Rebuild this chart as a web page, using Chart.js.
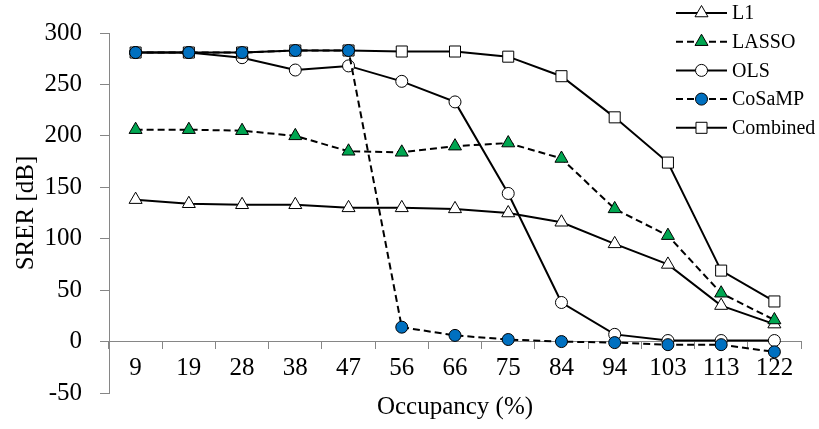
<!DOCTYPE html>
<html>
<head>
<meta charset="utf-8">
<title>SRER vs Occupancy</title>
<script src="https://cdn.jsdelivr.net/npm/chart.js@4.4.0/dist/chart.umd.min.js"></script>
<style>
  html, body { margin: 0; padding: 0; background: #fff; }
  #wrap { width: 819px; height: 429px; position: relative; }
</style>
</head>
<body>
<div id="wrap"><canvas id="chart"></canvas></div>
<script>
// Data
const occupancy = ['9', '19', '28', '38', '47', '56', '66', '75', '84', '94', '103', '113', '122'];
const l1Values       = [138, 134, 133, 133, 130, 130, 129, 125, 116, 95, 75, 35, 17];
const lassoValues    = [206, 206, 205, 200, 185, 184, 190, 193, 178, 129, 103, 47, 21];
const olsValues      = [281, 281, 276, 264, 268, 253, 233, 144, 38, 7, 1, 1, 1];
const cosampValues   = [281, 281, 281, 283, 283, 14, 6, 2, 0, -1, -3, -3, -10];
const combinedValues = [281, 281, 281, 283, 283, 282, 282, 277, 258, 218, 174, 69, 39];
const yTicks = [-50, 0, 50, 100, 150, 200, 250, 300];

const serif = "'Liberation Serif', 'Times New Roman', serif";
const axisGray = '#868686';
const dash = [7, 4];

function series(label, data, opts) {
  return Object.assign({
    label: label,
    data: data,
    borderColor: '#000',
    borderWidth: 2,
    pointBorderColor: '#000',
    pointBorderWidth: 1,
    pointBackgroundColor: '#fff',
    tension: 0,
    fill: false
  }, opts);
}

// Legend drawn on the canvas: line sample with marker, then text
const lineLegend = {
  id: 'lineLegend',
  afterDraw(chart) {
    const ctx = chart.ctx;
    const x0 = 676, x1 = 727, top = 13, step = 28.7;
    ctx.save();
    chart.data.datasets.forEach((ds, i) => {
      const y = top + i * step;
      ctx.strokeStyle = ds.borderColor;
      ctx.lineWidth = ds.borderWidth;
      ctx.setLineDash(ds.borderDash || []);
      ctx.beginPath();
      ctx.moveTo(x0, y);
      ctx.lineTo(x1, y);
      ctx.stroke();
      ctx.setLineDash([]);
      ctx.fillStyle = ds.pointBackgroundColor;
      ctx.strokeStyle = ds.pointBorderColor;
      ctx.lineWidth = ds.pointBorderWidth;
      Chart.helpers.drawPoint(ctx, {
        pointStyle: ds.pointStyle,
        radius: ds.pointRadius,
        rotation: 0,
        borderWidth: ds.pointBorderWidth
      }, (x0 + x1) / 2, y);
      ctx.fillStyle = '#000';
      ctx.font = '20px ' + serif;
      ctx.textBaseline = 'middle';
      ctx.textAlign = 'left';
      ctx.fillText(ds.label, x1 + 5, y + 1);
    });
    ctx.restore();
  }
};

const ctx = document.getElementById('chart').getContext('2d');
new Chart(ctx, {
  type: 'line',
  data: {
    labels: occupancy,
    datasets: [
      series('L1', l1Values, { pointStyle: 'triangle', pointRadius: 7.5, order: 5 }),
      series('LASSO', lassoValues, { pointStyle: 'triangle', pointRadius: 7.5, pointBackgroundColor: '#00a651', borderDash: dash, order: 4 }),
      series('OLS', olsValues, { pointStyle: 'circle', pointRadius: 6, order: 3 }),
      series('CoSaMP', cosampValues, { pointStyle: 'circle', pointRadius: 6, pointBackgroundColor: '#0070c0', borderDash: dash, order: 1 }),
      series('Combined', combinedValues, { pointStyle: 'rect', pointRadius: 7.8, order: 2 })
    ]
  },
  options: {
    responsive: true,
    maintainAspectRatio: false,
    animation: false,
    layout: { padding: { left: 9, right: 18, top: 26, bottom: 36 } },
    plugins: {
      legend: { display: false },
      tooltip: { enabled: false }
    },
    scales: {
      x: {
        type: 'category',
        position: { y: 0 },
        offset: true,
        grid: { offset: true, drawOnChartArea: false, drawTicks: true, tickLength: 7, color: axisGray },
        border: { display: true, color: axisGray, width: 1 },
        ticks: { color: '#000', font: { family: serif, size: 25 }, padding: 5, maxRotation: 0, autoSkip: false },
        title: { display: true, text: 'Occupancy (%)', color: '#000', font: { family: serif, size: 25 }, padding: { top: 4, bottom: 0 } }
      },
      y: {
        min: -50,
        max: 300,
        afterBuildTicks(scale) { scale.ticks = yTicks.map(v => ({ value: v })); },
        afterFit(scale) { scale.width = 100; },
        grid: { drawOnChartArea: false, drawTicks: true, tickLength: 9, color: axisGray },
        border: { display: true, color: axisGray, width: 1 },
        ticks: { color: '#000', font: { family: serif, size: 25 }, padding: 18 },
        title: { display: true, text: 'SRER [dB]', color: '#000', font: { family: serif, size: 25 }, padding: { top: 2, bottom: 4 } }
      }
    }
  },
  plugins: [lineLegend]
});
</script>
</body>
</html>
